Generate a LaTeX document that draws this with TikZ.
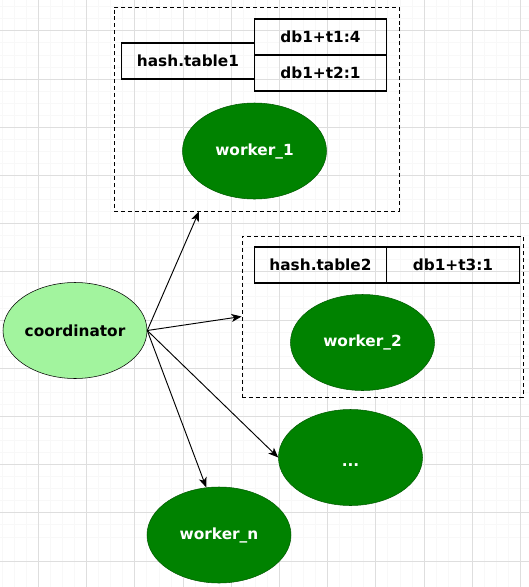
\documentclass[tikz,border=0pt]{standalone}
\usepackage{fontspec}
\setmainfont{DejaVu Sans}
\usetikzlibrary{shapes.geometric, arrows.meta}

\definecolor{workergreen}{HTML}{008200}
\definecolor{workerline}{HTML}{005C00}
\definecolor{coordgreen}{HTML}{A2F49E}
\definecolor{gridmajor}{HTML}{DEDEDE}
\definecolor{gridminor}{HTML}{F8F8F8}

\tikzset{
  worker/.style={ellipse, draw=workerline, fill=workergreen, text=white,
    minimum width=108pt, minimum height=72pt, inner sep=0pt,
    font=\fontsize{11.5}{13}\selectfont\bfseries},
  coordnode/.style={worker, draw=black, fill=coordgreen, text=black},
  cell/.style={draw, line width=0.9pt, minimum width=99.5pt, minimum height=27pt,
    inner sep=0pt, font=\fontsize{11.5}{13}\selectfont\bfseries},
  group/.style={draw, line width=0.7pt, dash pattern=on 3pt off 2.2pt, inner sep=0pt}
}

\begin{document}
\begin{tikzpicture}[>={Stealth[length=7.5pt, width=6pt, inset=2pt]}, x=0.75pt, y=-0.75pt]

  % achtergrond met raster
  \useasboundingbox (0,0) rectangle (529,587);
  \fill[white] (0,0) rectangle (529,587);
  \foreach \k in {-3,...,44} {
    \draw[gridminor, line width=0.4pt] ({2.15+12.05*\k},0) -- ++(0,587);
    \draw[gridminor, line width=0.4pt] (0,{6.6+12.05*\k}) -- ++(529,0);
  }
  \foreach \k in {0,...,10}
    \draw[gridmajor, line width=0.6pt] ({38.3+48.2*\k},0) -- ++(0,587);
  \foreach \k in {0,...,11}
    \draw[gridmajor, line width=0.6pt] (0,{30.7+48.2*\k}) -- ++(529,0);

  % worker 1 met hash.table1
  \node[group, minimum width=213.75pt, minimum height=153pt] (group1) at (256.5,109) {};
  \node[cell] (table1) at (188,61) {hash.table1};
  \node[cell] (entry11) at (320.5,37) {db1+t1:4};
  \node[cell] (entry12) at (320.5,73) {db1+t2:1};
  \node[worker] (worker1) at (254.5,151) {worker\_1};
  \coordinate (in1) at (199,211.5);

  % worker 2 met hash.table2
  \node[group, minimum width=210.75pt, minimum height=120.75pt] (group2) at (382.5,316.5) {};
  \node[cell] (table2) at (320.5,265) {hash.table2};
  \node[cell] (entry21) at (453,265) {db1+t3:1};
  \node[worker] (worker2) at (362.5,342.5) {worker\_2};

  % overige workers
  \node[worker, text height=13pt, text depth=0pt] (dots) at (350.5,457.5) {...};
  \node[worker] (workern) at (219,535) {worker\_n};

  % coordinator
  \node[coordnode] (coordinator) at (75,330.5) {coordinator};

  % verbindingen
  \draw[->, line width=0.7pt] (coordinator.east) -- (in1);
  \draw[->, line width=0.7pt] (coordinator.east) -- (group2.west);
  \draw[->, line width=0.7pt] (coordinator.east) -- (dots.west);
  \draw[->, line width=0.7pt] (coordinator.east) -- (workern.105);

\end{tikzpicture}
\end{document}
